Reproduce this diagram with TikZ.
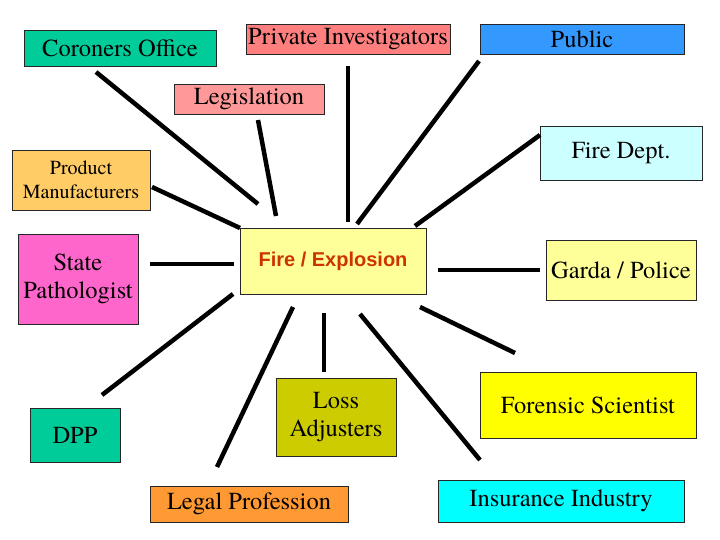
\documentclass[tikz,border=0pt]{standalone}
\usepackage{fontspec}
\newfontfamily\timesfont{texgyretermes-regular.otf}
\newfontfamily\arialfont{Liberation Sans}
\definecolor{cgreen}{HTML}{00CC99}
\definecolor{csalmon}{HTML}{FF7F7F}
\definecolor{cpink}{HTML}{FF9999}
\definecolor{cblue}{HTML}{3399FF}
\definecolor{ccyanl}{HTML}{CCFFFF}
\definecolor{corange}{HTML}{FFCC66}
\definecolor{cmagenta}{HTML}{FF66CC}
\definecolor{cpaley}{HTML}{FFFF99}
\definecolor{cyellow}{HTML}{FFFF00}
\definecolor{colive}{HTML}{CCCC00}
\definecolor{corange2}{HTML}{FF9933}
\definecolor{ccyan}{HTML}{00FFFF}
\definecolor{cred}{HTML}{CC3300}
\begin{document}
\begin{tikzpicture}[x=1pt,y=-1pt,
  box/.style={draw=black!85,line width=0.8pt,inner sep=0pt,align=center,
    font=\timesfont\fontsize{24.5}{28.5}\selectfont},
  link/.style={line width=4.5pt,black}]
\useasboundingbox (0,0) rectangle (720,540);
\fill[white] (0,0) rectangle (720,540);
% boxes
\node[box,fill=cgreen,minimum width=192pt,minimum height=36pt] (cor) at (120,48) {Coroners Office};
\node[box,fill=csalmon,minimum width=204pt,minimum height=30pt] (pi) at (348,39) {Private Investigators};
\node[box,fill=cblue,minimum width=204pt,minimum height=30pt] (pub) at (582,39) {Public};
\node[box,fill=cpink,minimum width=150pt,minimum height=30pt] (leg) at (249,99) {Legislation};
\node[box,fill=ccyanl,minimum width=162pt,minimum height=54pt] (fd) at (621,153) {Fire Dept.};
\node[box,fill=corange,minimum width=138pt,minimum height=60pt,font=\timesfont\fontsize{20}{24}\selectfont] (pm) at (81,180) {Product\\Manufacturers};
\node[box,fill=cmagenta,minimum width=120pt,minimum height=90pt] (sp) at (78,279) {State\\Pathologist};
\node[box,fill=cpaley,minimum width=186pt,minimum height=66pt,text=cred,font=\arialfont\bfseries\fontsize{20}{24}\selectfont] (fe) at (333,261) {Fire / Explosion};
\node[box,fill=cpaley,minimum width=150pt,minimum height=60pt] (gp) at (621,270) {Garda / Police};
\node[box,fill=cyellow,minimum width=216pt,minimum height=66pt] (fs) at (588,405) {Forensic Scientist};
\node[box,fill=colive,minimum width=120pt,minimum height=78pt] (la) at (336,417) {Loss\\Adjusters};
\node[box,fill=cgreen,minimum width=90pt,minimum height=54pt] (dpp) at (75,435) {DPP};
\node[box,fill=corange2,minimum width=198pt,minimum height=36pt] (lp) at (249,504) {Legal Profession};
\node[box,fill=ccyan,minimum width=246pt,minimum height=42pt] (ii) at (561,501) {Insurance Industry};
% connector end points
\coordinate (c1a) at (96,72);   \coordinate (c1b) at (258,204);
\coordinate (c2a) at (258,120); \coordinate (c2b) at (276,216);
\coordinate (c3a) at (348,66);  \coordinate (c3b) at (348,222);
\coordinate (c4a) at (479,61);  \coordinate (c4b) at (357,224);
\coordinate (c5a) at (540,135); \coordinate (c5b) at (415,226);
\coordinate (c6a) at (152,187); \coordinate (c6b) at (240,228);
\coordinate (c7a) at (150,264); \coordinate (c7b) at (234,264);
\coordinate (c8a) at (102,395); \coordinate (c8b) at (233,294);
\coordinate (c9a) at (217,467); \coordinate (c9b) at (293,307);
\coordinate (c10a) at (324,313); \coordinate (c10b) at (324,372);
\coordinate (c11a) at (360,314); \coordinate (c11b) at (480,460);
\coordinate (c12a) at (420,307); \coordinate (c12b) at (515,353);
\coordinate (c13a) at (438,270); \coordinate (c13b) at (540,270);
\foreach \i in {1,...,13} {\draw[link] (c\i a) -- (c\i b);}
\end{tikzpicture}
\end{document}
